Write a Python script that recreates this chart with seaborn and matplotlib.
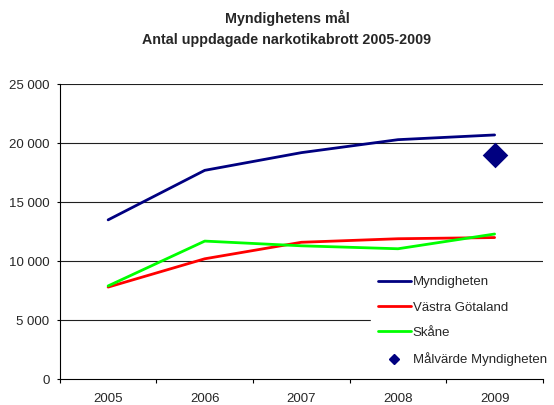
import numpy as np
import pandas as pd
import matplotlib
matplotlib.use('Agg')
import matplotlib.pyplot as plt
import seaborn as sns
from matplotlib.lines import Line2D

# Data
years = ['2005', '2006', '2007', '2008', '2009']
myndigheten = [13500, 17700, 19200, 20300, 20700]
vastra_gotaland = [7800, 10200, 11600, 11900, 12000]
skane = [7900, 11700, 11300, 11050, 12300]
malvarde_year = '2009'
malvarde = 19000

series_names = ['Myndigheten', 'Västra Götaland', 'Skåne']
colors = ['#000080', '#FF0000', '#00FF00']

df = pd.DataFrame({
    'År': years * 3,
    'Antal': myndigheten + vastra_gotaland + skane,
    'Serie': np.repeat(series_names, len(years)),
})
df['x'] = df['År'].map({y: i for i, y in enumerate(years)})

sns.set_style('white')
plt.rcParams['font.family'] = ['Liberation Sans', 'DejaVu Sans']

fig = plt.figure(figsize=(5.54, 4.05), dpi=100)
ax = fig.add_axes([0.108, 0.064, 0.872, 0.728])

# gridlines
for v in range(5000, 25001, 5000):
    ax.axhline(v, color='#202020', lw=0.8, zorder=0)

sns.lineplot(data=df, x='x', y='Antal', hue='Serie', hue_order=series_names,
             palette=colors, lw=2, ax=ax, legend=False, zorder=3)
sns.scatterplot(x=[years.index(malvarde_year)], y=[malvarde], marker='D', s=170,
                color='#000080', ax=ax, zorder=4, linewidth=0)

ax.set_xlim(-0.5, len(years) - 0.5)
ax.set_ylim(0, 25000)
ax.set_xticks(range(len(years)))
ax.set_xticklabels(years)
ax.set_xticks(np.arange(-0.5, len(years)), minor=True)
ax.tick_params(axis='x', which='major', length=0, labelsize=9.5, pad=10)
ax.tick_params(axis='x', which='minor', length=3, width=0.8, direction='out', color='black', bottom=True)
ax.set_yticks(range(0, 25001, 5000))
ax.set_yticklabels(['0', '5 000', '10 000', '15 000', '20 000', '25 000'])
ax.tick_params(axis='y', length=2.5, width=0.8, direction='out', color='black', labelsize=9.5, left=True, pad=5)
ax.set_xlabel('')
ax.set_ylabel('')

for s in ['top', 'right']:
    ax.spines[s].set_visible(False)
for s in ['left', 'bottom']:
    ax.spines[s].set_color('black')
    ax.spines[s].set_linewidth(0.8)

handles = [Line2D([0], [0], color=c, lw=2) for c in colors]
handles.append(Line2D([0], [0], marker='D', color='#000080', lw=0, markersize=5))
leg = fig.legend(handles, series_names + ['Målvärde Myndigheten'],
                 loc='upper left', bbox_to_anchor=(0.67, 0.335),
                 frameon=True, fontsize=9.5, handlelength=2.5, handletextpad=0.15,
                 labelspacing=1.0, borderpad=0.5, borderaxespad=0)
leg.get_frame().set_facecolor('white')
leg.get_frame().set_edgecolor('white')
leg.get_frame().set_alpha(1)
leg.set_zorder(10)

fig.suptitle('Myndighetens mål\nAntal uppdagade narkotikabrott 2005-2009',
             fontsize=10.3, fontweight='bold', x=0.518, y=0.975, linespacing=1.6)

fig.savefig('out.png', dpi=100, facecolor='white')
